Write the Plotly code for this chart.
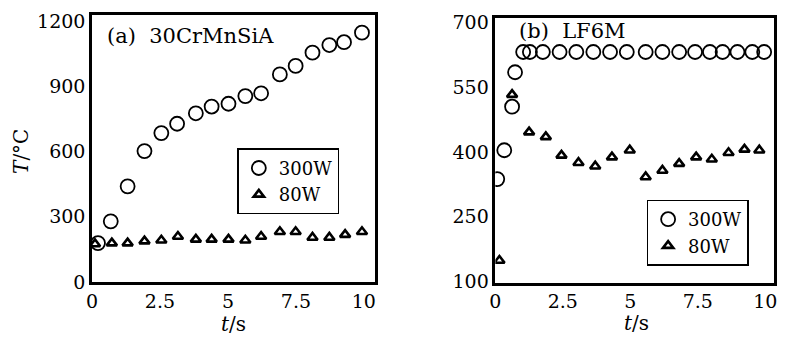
import plotly.graph_objects as go
from plotly.subplots import make_subplots

# ---- data: panel (a) 30CrMnSiA ----
time_a_300 = [0.22, 0.69, 1.31, 1.93, 2.55, 3.13, 3.82, 4.40, 5.02, 5.64, 6.22, 6.91, 7.49, 8.11, 8.73, 9.27, 9.93]
temp_a_300 = [179, 279, 440, 602, 685, 728, 776, 807, 820, 855, 868, 955, 994, 1055, 1090, 1103, 1147]
time_a_80 = [0.11, 0.73, 1.31, 1.93, 2.55, 3.16, 3.82, 4.40, 5.02, 5.64, 6.22, 6.91, 7.49, 8.11, 8.73, 9.31, 9.93]
temp_a_80 = [175, 179, 179, 188, 192, 209, 196, 196, 196, 192, 209, 231, 231, 205, 205, 218, 231]

# ---- data: panel (b) LF6M ----
time_b_300 = [0.07, 0.33, 0.62, 0.73, 1.03, 1.28, 1.76, 2.38, 3.00, 3.63, 4.25, 4.87, 5.57, 6.19, 6.81, 7.40, 7.95, 8.42, 8.97, 9.52, 9.96]
temp_b_300 = [337, 404, 505, 585, 632, 632, 632, 632, 632, 632, 632, 632, 632, 632, 632, 632, 632, 632, 632, 632, 632]
time_b_80 = [0.15, 0.62, 1.25, 1.87, 2.45, 3.08, 3.70, 4.32, 4.98, 5.57, 6.19, 6.81, 7.44, 8.02, 8.64, 9.23, 9.78]
temp_b_80 = [148, 533, 446, 435, 392, 375, 367, 388, 404, 342, 357, 373, 388, 383, 398, 406, 404]

# ---- ticks / labels ----
x_ticks = [0, 2.5, 5, 7.5, 10]
x_tick_labels = ["0", "2.5", "5", "7.5", "10"]
y_ticks_a = [0, 300, 600, 900, 1200]
y_ticks_b = [100, 250, 400, 550, 700]
series_names = ["300W", "80W"]
panel_titles = ["(a)\u00a0\u00a030CrMnSiA", "(b)\u00a0\u00a0LF6M"]

W, H = 790, 348
FONT = "DejaVu Serif"


def px(sx):
    return sx / W


def py(sy):
    return 1 - sy / H


fig = make_subplots(rows=1, cols=2)

circle = dict(symbol="circle-open", size=14, color="black", line=dict(width=1.8, color="black"))
tri = dict(symbol="triangle-up-open", size=9, color="black", line=dict(width=2.6, color="black"))

fig.add_trace(go.Scatter(x=time_a_300, y=temp_a_300, mode="markers", name=series_names[0],
                         marker=circle, legend="legend"), row=1, col=1)
fig.add_trace(go.Scatter(x=time_a_80, y=temp_a_80, mode="markers", name=series_names[1],
                         marker=tri, legend="legend"), row=1, col=1)
fig.add_trace(go.Scatter(x=time_b_300, y=temp_b_300, mode="markers", name=series_names[0],
                         marker=circle, legend="legend2"), row=1, col=2)
fig.add_trace(go.Scatter(x=time_b_80, y=temp_b_80, mode="markers", name=series_names[1],
                         marker=tri, legend="legend2"), row=1, col=2)

axis_common = dict(showline=True, mirror=True, linecolor="black", linewidth=2.5,
                   ticks="", showgrid=False, zeroline=False, ticklabeloverflow="allow",
                   tickfont=dict(family=FONT, size=19, color="black"))

fig.update_xaxes(axis_common, tickvals=x_ticks, ticktext=x_tick_labels)
fig.update_layout(
    xaxis=dict(domain=[px(87), px(373)], range=[0, 10.4]),
    yaxis=dict(domain=[py(290), py(8)], range=[0, 1230], tickvals=y_ticks_a, **axis_common),
    xaxis2=dict(domain=[px(495), px(777)], range=[0, 10.33]),
    yaxis2=dict(domain=[py(291), py(12)], range=[96, 710], tickvals=y_ticks_b, **axis_common),
)

legend_common = dict(bgcolor="white", bordercolor="black", borderwidth=1.5,
                     font=dict(family=FONT, size=18, color="black"),
                     itemwidth=30, tracegroupgap=0, xanchor="left", yanchor="top")
fig.update_layout(
    legend=dict(x=px(234), y=py(149), **legend_common),
    legend2=dict(x=px(648), y=py(203), **legend_common),
)

ann_font = dict(family=FONT, size=20, color="black")
annotations = [
    dict(text=panel_titles[0], x=px(100), y=py(31), xref="paper", yref="paper",
         xanchor="left", yanchor="middle", showarrow=False, font=dict(family=FONT, size=21, color="black")),
    dict(text=panel_titles[1], x=px(517), y=py(25), xref="paper", yref="paper",
         xanchor="left", yanchor="middle", showarrow=False, font=dict(family=FONT, size=21, color="black")),
    dict(text="<i>t</i>/s", x=px(230), y=py(334), xref="paper", yref="paper",
         xanchor="center", yanchor="middle", showarrow=False, font=ann_font),
    dict(text="<i>t</i>/s", x=px(638), y=py(333), xref="paper", yref="paper",
         xanchor="center", yanchor="middle", showarrow=False, font=ann_font),
    dict(text="<i>T</i>/°C", x=px(15), y=py(152), xref="paper", yref="paper",
         xanchor="center", yanchor="middle", showarrow=False, textangle=-90, font=ann_font),
]

fig.update_layout(
    width=W, height=H,
    margin=dict(l=0, r=0, t=0, b=0),
    paper_bgcolor="white", plot_bgcolor="white",
    showlegend=True,
    annotations=annotations,
)

fig.write_html(
    "out.html",
    config={"displayModeBar": False},
    post_script="document.body.style.margin='0px';document.documentElement.style.overflow='hidden';",
)
